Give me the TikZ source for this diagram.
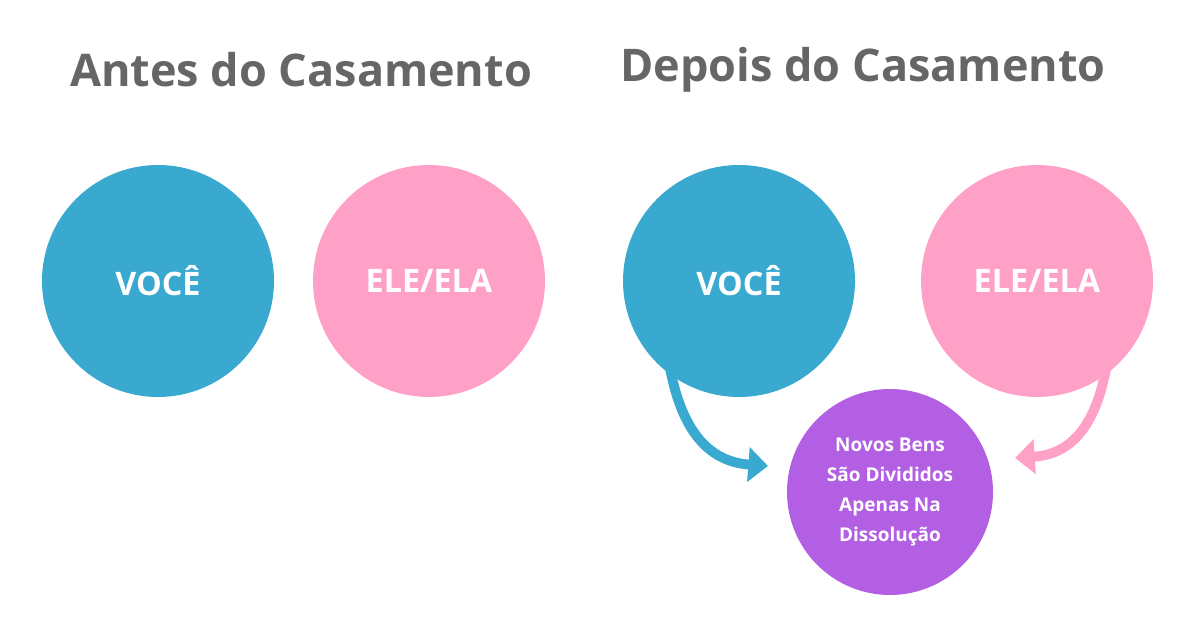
\documentclass[tikz,border=0pt]{standalone}
\usepackage{fontspec}
\setmainfont{Open Sans}
\usetikzlibrary{arrows.meta,positioning}
\definecolor{voceblue}{HTML}{39A9D0}
\definecolor{elepink}{HTML}{FFA0C6}
\definecolor{bensviolet}{HTML}{B25FE3}
\definecolor{titlegrey}{HTML}{666666}
\begin{document}
\begin{tikzpicture}[x=0.025cm,y=-0.025cm,
  title/.style={font=\bfseries\fontsize{32}{36}\selectfont, text=titlegrey},
  pessoa/.style={circle, minimum size=232*0.025cm, inner sep=0pt, text=white, font=\bfseries\fontsize{23}{26}\selectfont},
  bens/.style={circle, fill=bensviolet, minimum size=206*0.025cm, inner sep=0pt, text=white, align=center, font=\bfseries\fontsize{13.5}{21.5}\selectfont},
  seta/.style={line width=7pt, -{Triangle[length=14pt,width=24pt]}}]
\useasboundingbox (0,0) rectangle (1200,628);
% Antes
\node[title] (antes) at (301,70) {Antes do Casamento};
\node[pessoa, fill=voceblue] (voce1) at (158,281) {VOCÊ};
\node[pessoa, fill=elepink] (ele1) at (429,281) {ELE/ELA};
% Depois
\node[title] (depois) at (863,70) {Depois do Casamento};
\node[pessoa, fill=voceblue] (voce2) at (739,281) {VOCÊ};
\node[pessoa, fill=elepink] (ele2) at (1037,281) {ELE/ELA};
\node[bens] (bens) at (890,492) {Novos Bens\\São Divididos\\Apenas Na\\Dissolução};
\coordinate (alvo1) at (768,466);
\coordinate (alvo2) at (1015,458);
\draw[seta, voceblue] (voce2.south west) ++(12,-2) .. controls (682,440) and (715,462) .. (alvo1);
\draw[seta, elepink] (ele2.south east) ++(-12,-2) .. controls (1095,440) and (1060,455) .. (alvo2);
\end{tikzpicture}
\end{document}
